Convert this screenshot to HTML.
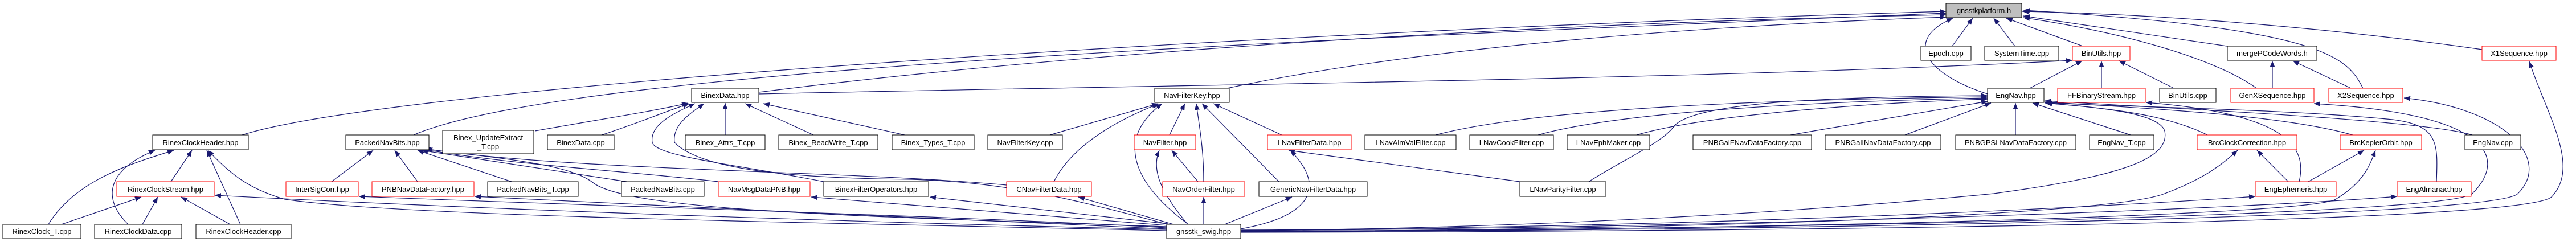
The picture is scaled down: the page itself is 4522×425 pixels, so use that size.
<!DOCTYPE html>
<html><head><meta charset="utf-8"><style>
html,body{margin:0;padding:0;background:#fff;}
svg{display:block;}
text{font-family:"Liberation Sans",sans-serif;font-size:13px;fill:#000;}
.e{fill:none;stroke:#191970;stroke-width:1.2;marker-end:url(#a);}
.n{fill:#fff;stroke:#000;stroke-width:1;}
.r{fill:#fff;stroke:#ff0000;stroke-width:1;}
.s{fill:#999;stroke:none;}
</style></head><body>
<svg width="4522" height="425" viewBox="0 0 4522 425" xmlns="http://www.w3.org/2000/svg">
<defs><marker id="a" markerUnits="userSpaceOnUse" markerWidth="12" markerHeight="9" refX="11" refY="4.5" orient="auto"><path d="M0,0 L11,4.5 L0,9 z" fill="#191970"/></marker></defs>
<g>
<!-- to gnsstkplatform -->
<path class="e" d="M425,237 C700,150 2200,55 3416,20"/>
<path class="e" d="M726,237 C1000,120 2300,70 3416,23"/>
<path class="e" d="M1332,162 C1900,90 2700,40 3416,26"/>
<path class="e" d="M2140,158 C2500,80 3000,45 3416,30"/>
<path class="e" d="M3427,81 L3463,32"/>
<path class="e" d="M3537,81 L3500,32"/>
<path class="e" d="M3656,81 L3522,32"/>
<path class="e" d="M3909,81 L3552,28"/>
<path class="e" d="M4357,87 C4100,50 3800,25 3550,20"/>
<path class="e" d="M3961,155 C3900,110 3750,60 3552,31"/>
<path class="e" d="M4148,155 C4120,100 4080,50 3552,18"/>
<path class="e" d="M3489,165 C3380,130 3340,70 3428,32"/>
<!-- BinUtils etc -->
<path class="e" d="M1332,165 C2000,150 3000,140 3638,106"/>
<path class="e" d="M3563,155 L3655,107"/>
<path class="e" d="M3689,155 L3689,107"/>
<path class="e" d="M3816,155 L3720,107"/>
<path class="e" d="M3989,155 L3989,107"/>
<path class="e" d="M4127,155 L4025,107"/>
<!-- Rinex -->
<path class="e" d="M300,319 L337,264"/>
<path class="e" d="M85,394 C130,320 220,290 305,264"/>
<path class="e" d="M108,394 L248,346"/>
<path class="e" d="M225,394 C180,350 185,300 272,264"/>
<path class="e" d="M250,394 L277,346"/>
<path class="e" d="M422,394 L363,264"/>
<path class="e" d="M404,394 L318,346"/>
<path class="e" d="M2048,405 C1400,390 700,380 500,350 C430,330 400,300 365,264"/>
<path class="e" d="M2048,403 C1500,390 900,370 377,343"/>
<!-- PackedNavBits -->
<path class="e" d="M582,319 L655,264"/>
<path class="e" d="M733,319 L693,264"/>
<path class="e" d="M898,319 L733,264"/>
<path class="e" d="M1100,319 L740,264"/>
<path class="e" d="M2048,400 C1700,380 1000,360 630,345"/>
<path class="e" d="M2048,402 C1700,385 1200,365 833,345"/>
<path class="e" d="M1261,319 C1100,300 900,290 742,262"/>
<path class="e" d="M1767,325 C1500,300 1000,300 745,261"/>
<path class="e" d="M2048,398 C1500,380 1100,370 1040,320 C1000,290 900,280 748,262"/>
<!-- BinexData -->
<path class="e" d="M939,230 C1050,210 1150,195 1208,181"/>
<path class="e" d="M1056,237 C1110,220 1170,195 1210,182"/>
<path class="e" d="M1273,237 L1273,181"/>
<path class="e" d="M1428,237 L1308,182"/>
<path class="e" d="M1588,237 L1340,182"/>
<path class="e" d="M1446,319 C1300,290 1150,275 1145,250 C1140,220 1180,200 1220,182"/>
<path class="e" d="M2046,393 C1850,340 1750,320 1600,315 C1400,313 1232,300 1184,250 C1180,220 1210,200 1236,182"/>
<!-- NavFilterKey -->
<path class="e" d="M1843,237 L2033,182"/>
<path class="e" d="M1850,319 C1880,260 1950,215 2035,182"/>
<path class="e" d="M2086,394 C2000,330 1950,250 2040,182"/>
<path class="e" d="M2053,237 L2080,182"/>
<path class="e" d="M2113,319 C2113,260 2105,220 2100,182"/>
<path class="e" d="M2245,319 L2110,182"/>
<path class="e" d="M2250,237 L2130,182"/>
<path class="e" d="M2103,319 L2057,264"/>
<path class="e" d="M2085,394 C2040,340 2020,300 2035,264"/>
<path class="e" d="M2113,394 L2113,346"/>
<path class="e" d="M2060,394 L1893,346"/>
<path class="e" d="M2050,393 L1632,346"/>
<path class="e" d="M2050,396 L1424,346"/>
<path class="e" d="M2150,394 L2268,346"/>
<path class="e" d="M2178,402 C2300,380 2330,330 2265,264"/>
<path class="e" d="M2668,319 L2262,264"/>
<!-- EngNav -->
<path class="e" d="M2789,319 C2850,280 2920,250 2940,220 C2980,180 3200,170 3489,168"/>
<path class="e" d="M2520,237 C2700,190 3100,175 3489,170"/>
<path class="e" d="M2700,237 C2850,195 3200,178 3489,172"/>
<path class="e" d="M2873,237 C3000,200 3300,180 3489,174"/>
<path class="e" d="M3143,237 L3489,178"/>
<path class="e" d="M3344,237 L3495,181"/>
<path class="e" d="M3538,237 L3538,181"/>
<path class="e" d="M3740,237 L3568,181"/>
<path class="e" d="M3875,237 C3800,200 3700,190 3590,181"/>
<path class="e" d="M4130,237 C4000,200 3750,190 3590,179"/>
<path class="e" d="M4340,237 C4250,210 3800,190 3590,177"/>
<path class="e" d="M4277,319 C4280,250 4280,220 4200,210 C4000,190 3700,188 3590,180"/>
<path class="e" d="M2178,405 C2800,400 3300,360 3500,340 C3720,310 3810,280 3800,230 C3790,200 3700,190 3592,181"/>
<path class="e" d="M4036,319 C4050,260 4020,200 3767,180"/>
<!-- Brc / Eng -->
<path class="e" d="M4017,319 L3962,264"/>
<path class="e" d="M4052,319 L4150,264"/>
<path class="e" d="M2178,406 C2900,405 3700,380 3800,340 C3880,310 3910,280 3928,264"/>
<path class="e" d="M2178,407 C3000,405 4050,380 4100,350 C4150,320 4160,290 4170,264"/>
<path class="e" d="M2178,404 C2900,400 3600,370 3959,345"/>
<path class="e" d="M2178,405 C3000,400 3900,370 4208,345"/>
<!-- X sequences -->
<path class="e" d="M2178,406 C3000,405 4300,380 4340,340 C4400,280 4380,200 4062,182"/>
<path class="e" d="M2178,407 C3000,406 4380,385 4420,340 C4480,280 4400,190 4220,172"/>
<path class="e" d="M2178,408 C3000,407 4440,395 4480,345 C4530,290 4470,200 4440,108"/>
</g>
<g id="nodes">
<!-- r0 -->
<rect x="3416" y="6" width="133" height="25" fill="#bfbfbf" stroke="#000"/><text x="3482.5" y="23" text-anchor="middle">gnsstkplatform.h</text>
</g>
<g>
<!-- helper boxes: rect then text -->
<rect class="n" x="3372" y="81" width="88" height="25"/><text x="3416" y="98" text-anchor="middle">Epoch.cpp</text>
<rect class="n" x="3484" y="81" width="130" height="25"/><text x="3549" y="98" text-anchor="middle">SystemTime.cpp</text>
<rect class="r" x="3638" y="81" width="101" height="25"/><text x="3688.5" y="98" text-anchor="middle">BinUtils.hpp</text>
<rect class="n" x="3910" y="81" width="157" height="25"/><text x="3988.5" y="98" text-anchor="middle">mergePCodeWords.h</text>
<rect class="r" x="4357" y="81" width="130" height="25"/><text x="4422" y="98" text-anchor="middle">X1Sequence.hpp</text>

<rect class="n" x="1214" y="155" width="118" height="25"/><text x="1273" y="172" text-anchor="middle">BinexData.hpp</text>
<rect class="n" x="2027" y="155" width="131" height="25"/><text x="2092.5" y="172" text-anchor="middle">NavFilterKey.hpp</text>
<rect class="n" x="3489" y="155" width="99" height="25"/><text x="3538.5" y="172" text-anchor="middle">EngNav.hpp</text>
<rect class="r" x="3612" y="155" width="154" height="25"/><text x="3689" y="172" text-anchor="middle">FFBinaryStream.hpp</text>
<rect class="n" x="3791" y="155" width="99" height="25"/><text x="3840.5" y="172" text-anchor="middle">BinUtils.cpp</text>
<rect class="r" x="3916" y="155" width="146" height="25"/><text x="3989" y="172" text-anchor="middle">GenXSequence.hpp</text>
<rect class="r" x="4088" y="155" width="130" height="25"/><text x="4153" y="172" text-anchor="middle">X2Sequence.hpp</text>

<rect class="n" x="268" y="237" width="168" height="26"/><text x="352" y="255" text-anchor="middle">RinexClockHeader.hpp</text>
<rect class="n" x="607" y="237" width="146" height="26"/><text x="680" y="255" text-anchor="middle">PackedNavBits.hpp</text>
<rect class="n" x="777" y="229" width="160" height="41"/><text x="857" y="246" text-anchor="middle">Binex_UpdateExtract</text><text x="857" y="262" text-anchor="middle">_T.cpp</text>
<rect class="n" x="961" y="237" width="117" height="26"/><text x="1019.5" y="255" text-anchor="middle">BinexData.cpp</text>
<rect class="n" x="1203" y="237" width="140" height="26"/><text x="1273" y="255" text-anchor="middle">Binex_Attrs_T.cpp</text>
<rect class="n" x="1367" y="237" width="174" height="26"/><text x="1454" y="255" text-anchor="middle">Binex_ReadWrite_T.cpp</text>
<rect class="n" x="1566" y="237" width="144" height="26"/><text x="1638" y="255" text-anchor="middle">Binex_Types_T.cpp</text>
<rect class="n" x="1734" y="237" width="131" height="26"/><text x="1799.5" y="255" text-anchor="middle">NavFilterKey.cpp</text>
<rect class="r" x="1991" y="237" width="108" height="26"/><text x="2045" y="255" text-anchor="middle">NavFilter.hpp</text>
<rect class="r" x="2225" y="237" width="147" height="26"/><text x="2298.5" y="255" text-anchor="middle">LNavFilterData.hpp</text>
<rect class="n" x="2396" y="237" width="160" height="26"/><text x="2476" y="255" text-anchor="middle">LNavAlmValFilter.cpp</text>
<rect class="n" x="2580" y="237" width="147" height="26"/><text x="2653.5" y="255" text-anchor="middle">LNavCookFilter.cpp</text>
<rect class="n" x="2751" y="237" width="145" height="26"/><text x="2823.5" y="255" text-anchor="middle">LNavEphMaker.cpp</text>
<rect class="n" x="2972" y="237" width="208" height="26"/><text x="3076" y="255" text-anchor="middle">PNBGalFNavDataFactory.cpp</text>
<rect class="n" x="3204" y="237" width="203" height="26"/><text x="3305.5" y="255" text-anchor="middle">PNBGalINavDataFactory.cpp</text>
<rect class="n" x="3433" y="237" width="211" height="26"/><text x="3538.5" y="255" text-anchor="middle">PNBGPSLNavDataFactory.cpp</text>
<rect class="n" x="3668" y="237" width="113" height="26"/><text x="3724.5" y="255" text-anchor="middle">EngNav_T.cpp</text>
<rect class="r" x="3857" y="237" width="175" height="26"/><text x="3944.5" y="255" text-anchor="middle">BrcClockCorrection.hpp</text>
<rect class="r" x="4108" y="237" width="143" height="26"/><text x="4179.5" y="255" text-anchor="middle">BrcKeplerOrbit.hpp</text>
<rect class="n" x="4327" y="237" width="98" height="26"/><text x="4376" y="255" text-anchor="middle">EngNav.cpp</text>

<rect class="r" x="205" y="319" width="171" height="26"/><text x="290.5" y="337" text-anchor="middle">RinexClockStream.hpp</text>
<rect class="r" x="502" y="319" width="127" height="26"/><text x="565.5" y="337" text-anchor="middle">InterSigCorr.hpp</text>
<rect class="r" x="653" y="319" width="179" height="26"/><text x="742.5" y="337" text-anchor="middle">PNBNavDataFactory.hpp</text>
<rect class="n" x="856" y="319" width="159" height="26"/><text x="935.5" y="337" text-anchor="middle">PackedNavBits_T.cpp</text>
<rect class="n" x="1091" y="319" width="145" height="26"/><text x="1163.5" y="337" text-anchor="middle">PackedNavBits.cpp</text>
<rect class="r" x="1261" y="319" width="161" height="26"/><text x="1341.5" y="337" text-anchor="middle">NavMsgDataPNB.hpp</text>
<rect class="n" x="1446" y="319" width="184" height="26"/><text x="1538" y="337" text-anchor="middle">BinexFilterOperators.hpp</text>
<rect class="r" x="1767" y="319" width="149" height="26"/><text x="1841.5" y="337" text-anchor="middle">CNavFilterData.hpp</text>
<rect class="r" x="2041" y="319" width="144" height="26"/><text x="2113" y="337" text-anchor="middle">NavOrderFilter.hpp</text>
<rect class="n" x="2210" y="319" width="190" height="26"/><text x="2305" y="337" text-anchor="middle">GenericNavFilterData.hpp</text>
<rect class="n" x="2668" y="319" width="151" height="26"/><text x="2743.5" y="337" text-anchor="middle">LNavParityFilter.cpp</text>
<rect class="r" x="3959" y="319" width="142" height="26"/><text x="4030" y="337" text-anchor="middle">EngEphemeris.hpp</text>
<rect class="r" x="4208" y="319" width="130" height="26"/><text x="4273" y="337" text-anchor="middle">EngAlmanac.hpp</text>

<rect class="n" x="5" y="394" width="137" height="25"/><text x="73.5" y="411" text-anchor="middle">RinexClock_T.cpp</text>
<rect class="n" x="166" y="394" width="153" height="25"/><text x="242.5" y="411" text-anchor="middle">RinexClockData.cpp</text>
<rect class="n" x="344" y="394" width="167" height="25"/><text x="427.5" y="411" text-anchor="middle">RinexClockHeader.cpp</text>
<rect class="n" x="2048" y="394" width="130" height="25"/><text x="2113" y="411" text-anchor="middle">gnsstk_swig.hpp</text>
</g>
</svg>
</body></html>
